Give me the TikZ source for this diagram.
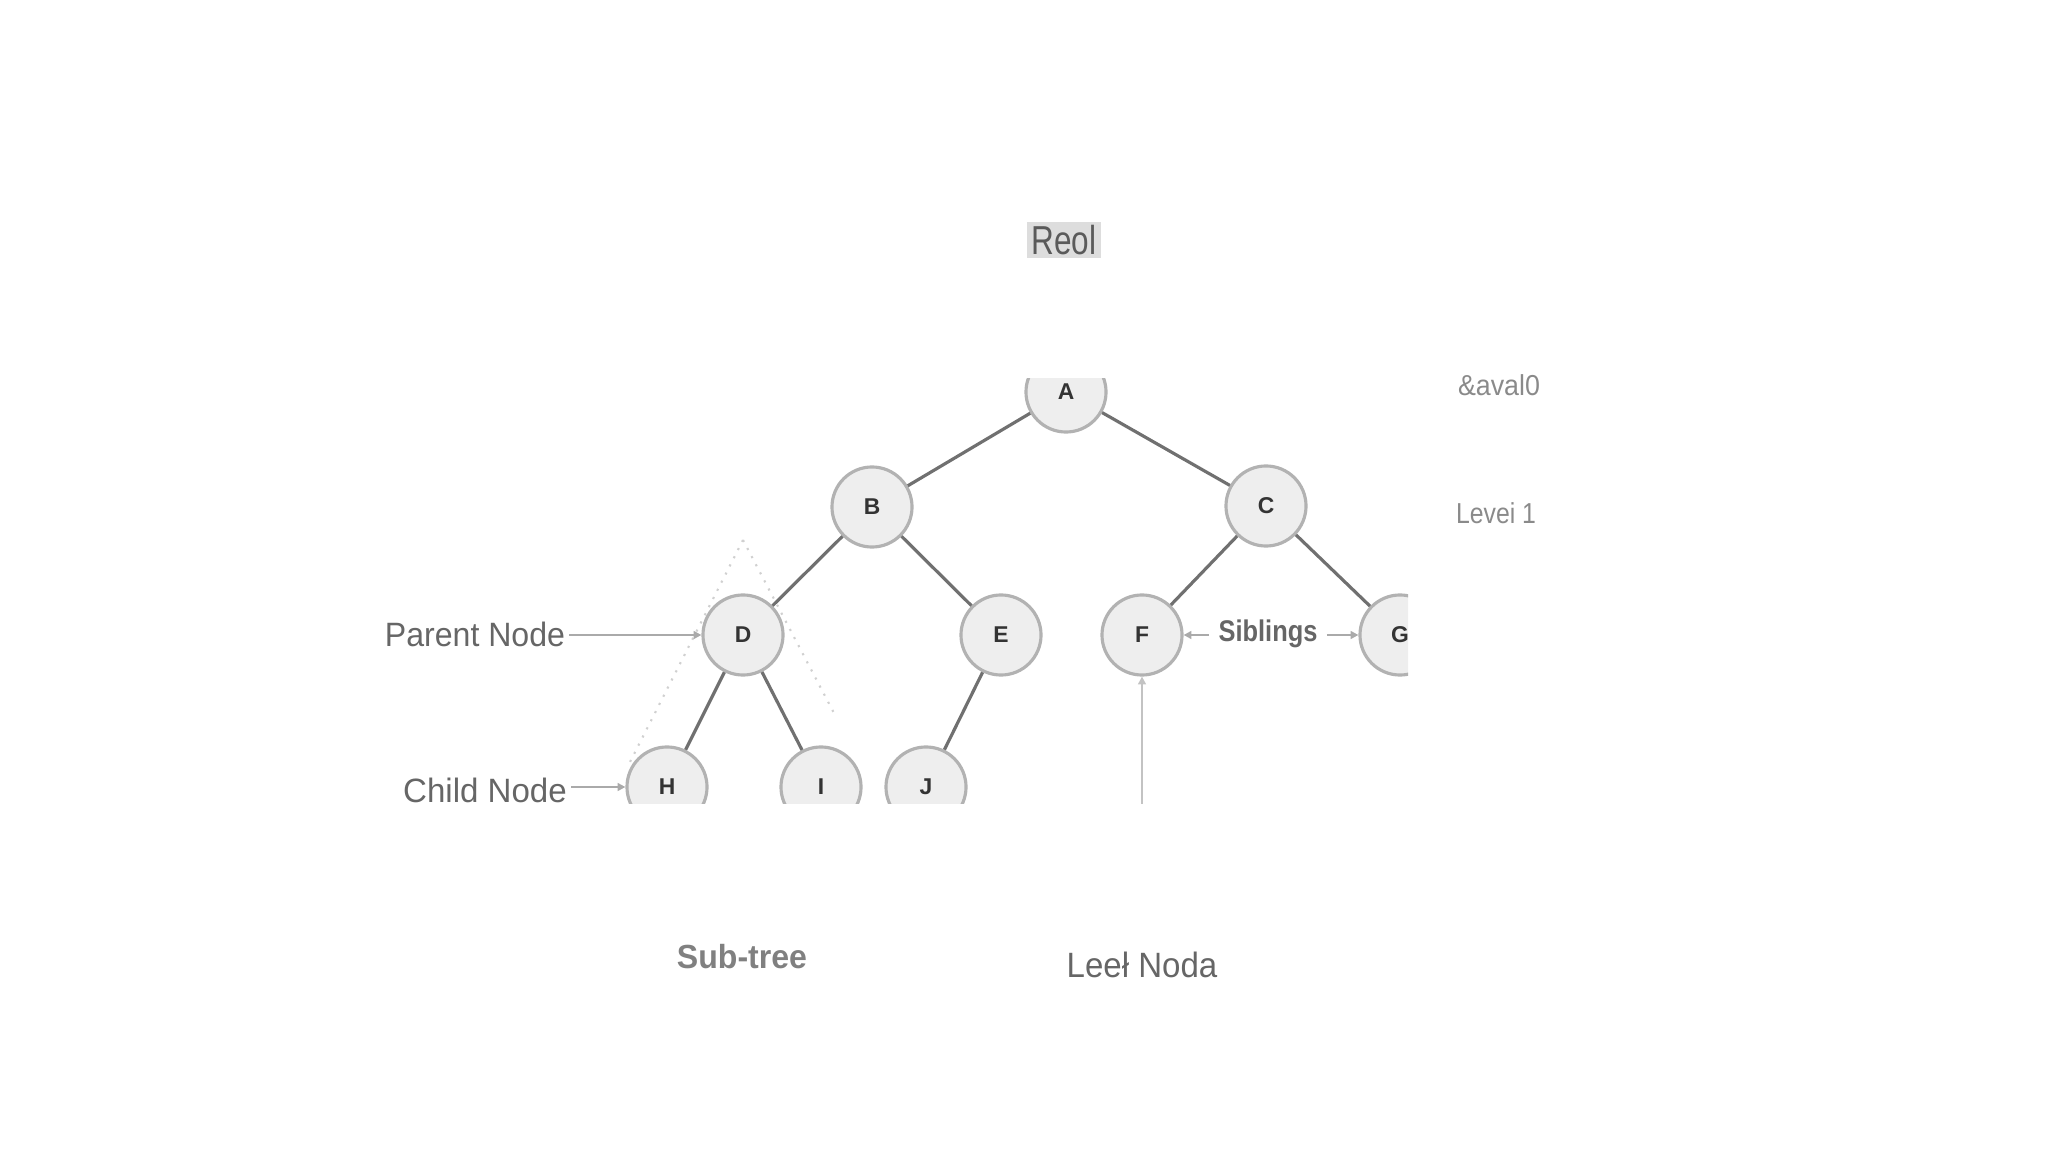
\documentclass[tikz,border=0pt]{standalone}
\usepackage{fontspec}
\setmainfont{Liberation Sans}
\usetikzlibrary{arrows.meta}
\definecolor{edgec}{HTML}{707070}
\definecolor{circd}{HTML}{B2B2B2}
\definecolor{circf}{HTML}{EEEEEE}
\definecolor{arrc}{HTML}{AAAAAA}
\definecolor{lblc}{HTML}{666666}
\definecolor{lightlbl}{HTML}{8A8A8A}
\definecolor{rootbg}{HTML}{DDDDDD}
\definecolor{rootc}{HTML}{5A5A5A}
\definecolor{dotc}{HTML}{D0D0D0}
\tikzset{
  treenode/.style={circle, draw=circd, fill=circf, line width=0.9pt, minimum size=0.8cm, inner sep=0pt,
    font=\fontsize{6.5}{7}\selectfont\bfseries, text=black!80},
  edge/.style={draw=edgec, line width=0.9pt},
  arr/.style={draw=arrc, line width=0.6pt, -{Triangle[length=2.2pt,width=2.2pt]}},
  lbl/.style={inner sep=1pt, text=lblc},
}
\begin{document}
\begin{tikzpicture}[x=0.01cm,y=-0.01cm]
\useasboundingbox (0,0) rectangle (2048,1152);
\begin{scope}
\clip (380,379) rectangle (1408,803);
\node[treenode] (A) at (1066,392) {A};
\node[treenode] (B) at (872,507) {B};
\node[treenode] (C) at (1266,506) {C};
\node[treenode] (D) at (743,635) {D};
\node[treenode] (E) at (1001,635) {E};
\node[treenode] (F) at (1142,635) {F};
\node[treenode] (G) at (1400,635) {G};
\node[treenode] (H) at (667,787) {H};
\node[treenode] (I) at (821,787) {I};
\node[treenode] (J) at (926,787) {J};
\draw[edge] (A) -- (B);
\draw[edge] (A) -- (C);
\draw[edge] (B) -- (D);
\draw[edge] (B) -- (E);
\draw[edge] (C) -- (F);
\draw[edge] (C) -- (G);
\draw[edge] (D) -- (H);
\draw[edge] (D) -- (I);
\draw[edge] (E) -- (J);
\coordinate (apex) at (743,540);
\coordinate (stl) at (630,762);
\coordinate (str) at (835,715);
\draw[dotc, dotted, line width=0.6pt] (apex) -- (stl);
\draw[dotc, dotted, line width=0.6pt] (apex) -- (str);
\node[lbl, font=\fontsize{9.6}{11}\selectfont] (parent) at (475,634) {\scalebox{0.95}[1]{Parent Node}};
\node[lbl, font=\fontsize{9.6}{11}\selectfont] (child) at (485,790) {\scalebox{0.98}[1]{Child Node}};
\node[lbl, font=\fontsize{8.5}{10}\selectfont\bfseries, text=black!60] (sib) at (1268,634) {\scalebox{0.85}[1]{Siblings}};
\draw[arr] (parent.east |- D.west) -- (D.west);
\draw[arr] (child.east |- H.west) -- (H.west);
\draw[arr, shorten <=1.5pt] (sib.west |- F.east) -- (F.east);
\draw[arr, shorten <=1.5pt] (sib.east |- G.west) -- (G.west);
\coordinate (fbot) at (1142,810);
\draw[arr, draw=arrc!70] (fbot) -- (F.south);
\end{scope}
\node[fill=rootbg, minimum width=0.73cm, minimum height=0.36cm, inner sep=0pt, text=rootc,
  font=\fontsize{11.5}{12}\selectfont] (root) at (1064,240) {\scalebox{0.78}[1]{Reol}};
\node[text=lightlbl, font=\fontsize{8.2}{10}\selectfont] (lvl0) at (1499,385) {\scalebox{0.93}[1]{\&aval0}};
\node[text=lightlbl, font=\fontsize{8.2}{10}\selectfont] (lvl1) at (1496,513) {\scalebox{0.86}[1]{Levei 1}};
\node[text=black!50, font=\fontsize{9.5}{11}\selectfont\bfseries] (subtree) at (742,957) {\scalebox{0.96}[1]{Sub-tree}};
\node[text=lblc, font=\fontsize{10}{12}\selectfont] (leaf) at (1142,965) {\scalebox{0.94}[1]{Leeł Noda}};
\end{tikzpicture}
\end{document}
